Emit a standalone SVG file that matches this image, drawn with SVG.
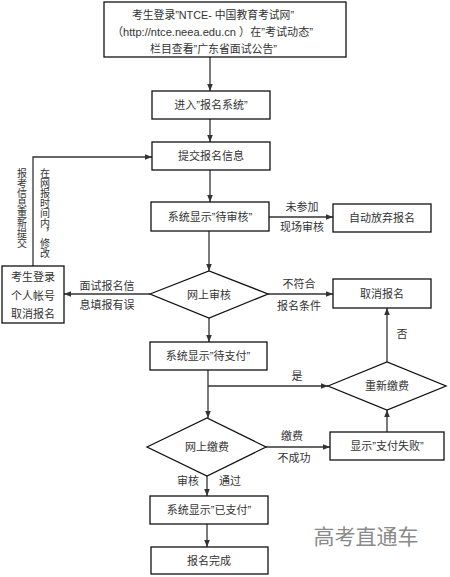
<svg xmlns="http://www.w3.org/2000/svg" width="450" height="577" viewBox="0 0 450 577">
<defs>
<marker id="ah" viewBox="0 0 8 8" refX="8" refY="4" markerWidth="7" markerHeight="7" markerUnits="userSpaceOnUse" orient="auto">
<path d="M0,0.8 L8,4 L0,7.2 Z" fill="#333"/>
</marker>
<style>
.b{fill:#fff;stroke:#111;stroke-width:1.3}
.t{font-family:"Liberation Sans","Noto Sans CJK SC",sans-serif;font-size:11px;fill:#333;text-anchor:middle;dominant-baseline:central}
.v{font-family:"Noto Sans CJK SC",sans-serif;font-size:10px;fill:#333;writing-mode:vertical-rl;text-orientation:upright}
.tt{font-family:"Liberation Sans","Noto Sans CJK SC",sans-serif;font-size:11.5px;fill:#333;text-anchor:middle;dominant-baseline:central}
.c{fill:none;stroke:#333;stroke-width:1.3}
.a{marker-end:url(#ah)}
.w{font-family:"Noto Sans CJK SC","Liberation Sans",sans-serif;font-size:21px;fill:#8a8a8a;text-anchor:middle;dominant-baseline:central}
</style>
</defs>
<rect width="450" height="577" fill="#fff"/>
<g id="connectors">
<path class="c a" d="M210,57 V91"/>
<path class="c a" d="M210,119 V142"/>
<path class="c a" d="M210,170 V202"/>
<path class="c a" d="M269,217 H333"/>
<path class="c a" d="M209,231 V271"/>
<path class="c a" d="M268,294 H333"/>
<path class="c a" d="M150,294 H64"/>
<path class="c a" d="M33,266 V157 H152"/>
<path class="c a" d="M209,318 V342"/>
<path class="c a" d="M208,370 V418"/>
<path class="c a" d="M208,386 H328"/>
<path class="c a" d="M387,362 V308"/>
<path class="c a" d="M266,447 H330"/>
<path class="c a" d="M387,432 V410"/>
<path class="c a" d="M207,476 V496"/>
<path class="c a" d="M207,524 V547"/>
<text class="t" x="302" y="207">未参加</text>
<text class="t" x="302" y="227">现场审核</text>
<text class="t" x="299" y="284">不符合</text>
<text class="t" x="299" y="306">报名条件</text>
<text class="t" x="107" y="286">面试报名信</text>
<text class="t" x="107" y="305">息填报有误</text>
<text class="t" x="297" y="376">是</text>
<text class="t" x="402" y="334">否</text>
<text class="t" x="292" y="436">缴费</text>
<text class="t" x="294" y="458">不成功</text>
<text class="t" x="188" y="481">审核</text>
<text class="t" x="230" y="481">通过</text>
<text class="v" x="45" y="168">在网报时间内，修改</text>
<text class="v" x="22" y="168">报考信息重新提交</text>
</g>
<g id="n-start">
<rect class="b" x="104" y="2" width="242" height="55"/>
<text class="tt" x="213" y="15" textLength="162" lengthAdjust="spacingAndGlyphs">考生登录”NTCE- 中国教育考试网”</text>
<text class="tt" x="212.5" y="32" textLength="201" lengthAdjust="spacingAndGlyphs">（http://ntce.neea.edu.cn ）在”考试动态”</text>
<text class="tt" x="213.5" y="49" textLength="127" lengthAdjust="spacingAndGlyphs">栏目查看”广东省面试公告”</text>
</g>
<g id="n-enter">
<rect class="b" x="152" y="91" width="118" height="28"/>
<text class="t" x="211" y="105">进入”报名系统”</text>
</g>
<g id="n-submit">
<rect class="b" x="152" y="142" width="118" height="28"/>
<text class="t" x="211" y="156">提交报名信息</text>
</g>
<g id="n-pending-review">
<rect class="b" x="151" y="202" width="118" height="29"/>
<text class="t" x="210" y="216.5">系统显示”待审核”</text>
</g>
<g id="n-auto-abandon">
<rect class="b" x="333" y="204" width="98" height="28"/>
<text class="t" x="382" y="218">自动放弃报名</text>
</g>
<g id="n-review">
<path class="b" d="M150,294 L209,271 L268,294 L209,318 Z"/>
<text class="t" x="209" y="294.5">网上审核</text>
</g>
<g id="n-cancel">
<rect class="b" x="333" y="279" width="98" height="29"/>
<text class="t" x="382" y="293.5">取消报名</text>
</g>
<g id="n-login-cancel">
<rect class="b" x="2" y="266" width="62" height="57"/>
<text class="t" x="33" y="277">考生登录</text>
<text class="t" x="33" y="296">个人帐号</text>
<text class="t" x="33" y="314">取消报名</text>
</g>
<g id="n-pending-pay">
<rect class="b" x="150" y="342" width="117" height="28"/>
<text class="t" x="208" y="356">系统显示”待支付”</text>
</g>
<g id="n-repay">
<path class="b" d="M328,386 L387,362 L446,386 L387,410 Z"/>
<text class="t" x="387" y="386">重新缴费</text>
</g>
<g id="n-pay">
<path class="b" d="M147,447 L207,418 L266,447 L207,476 Z"/>
<text class="t" x="207" y="447">网上缴费</text>
</g>
<g id="n-pay-fail">
<rect class="b" x="330" y="432" width="114" height="28"/>
<text class="t" x="387" y="446">显示”支付失败”</text>
</g>
<g id="n-paid">
<rect class="b" x="150" y="496" width="118" height="28"/>
<text class="t" x="209" y="510">系统显示”已支付”</text>
</g>
<g id="n-done">
<rect class="b" x="151" y="547" width="117" height="27"/>
<text class="t" x="209" y="560.5">报名完成</text>
</g>
<text class="w" x="366" y="535">高考直通车</text>
</svg>
